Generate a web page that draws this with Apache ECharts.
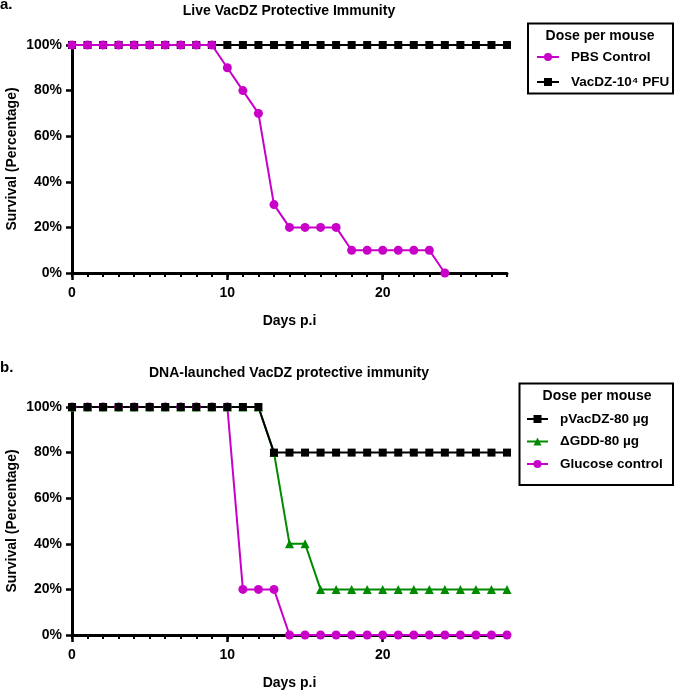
<!DOCTYPE html>
<html>
<head>
<meta charset="utf-8">
<script src="https://cdn.jsdelivr.net/npm/echarts@6/dist/echarts.min.js"></script>
<style>
html,body{margin:0;padding:0;background:#fff;}
#chart{width:674px;height:690px;}
</style>
</head>
<body>
<div id="chart"></div>
<script>
// ---- Data ----
const days = [0,1,2,3,4,5,6,7,8,9,10,11,12,13,14,15,16,17,18,19,20,21,22,23,24,25,26,27,28];
// Panel a
const pbsControl = [100,100,100,100,100,100,100,100,100,100,90,80,70,30,20,20,20,20,10,10,10,10,10,10,0];
const vacdz104 = [100,100,100,100,100,100,100,100,100,100,100,100,100,100,100,100,100,100,100,100,100,100,100,100,100,100,100,100,100];
// Panel b
const pVacDZ80 = [100,100,100,100,100,100,100,100,100,100,100,100,100,80,80,80,80,80,80,80,80,80,80,80,80,80,80,80,80];
const dGDD80 = [100,100,100,100,100,100,100,100,100,100,100,100,100,80,40,40,20,20,20,20,20,20,20,20,20,20,20,20,20];
const glucoseControl = [100,100,100,100,100,100,100,100,100,100,100,20,20,20,0,0,0,0,0,0,0,0,0,0,0,0,0,0,0];
const xLabels = [0,10,20];

const names = {
  pbs: 'PBS Control',
  vac: 'VacDZ-10\u2074 PFU',
  pvac: 'pVacDZ-80 \u00b5g',
  gdd: '\u0394GDD-80 \u00b5g',
  glu: 'Glucose control'
};

function pairs(vals){ return vals.map((v,i)=>[days[i], v]); }

const FONT = "'Liberation Sans', Arial, Helvetica, sans-serif";
const FS = 14;
const MAG = '#c800c8';
const GRN = '#008a00';
const BLK = '#000000';

function gridAxes(gi){
  const xa = [{
    gridIndex: gi, type:'value', min:0, max:28, interval:1, position:'bottom',
    axisLine:{show:true, lineStyle:{color:'#000', width:3}},
    axisTick:{show:true, length:4, lineStyle:{color:'#000', width:2}},
    axisLabel:{show:true, customValues: xLabels, margin:13, color:'#000', fontFamily:FONT, fontWeight:'bold', fontSize:FS},
    splitLine:{show:false},
    name:'Days p.i', nameLocation:'middle', nameGap:41, nameMoveOverlap:false,
    nameTextStyle:{color:'#000', fontFamily:FONT, fontWeight:'bold', fontSize:FS}
  },{
    gridIndex: gi, type:'value', min:0, max:28, interval:10, position:'bottom',
    axisLine:{show:false},
    axisTick:{show:true, customValues: xLabels, length:7, lineStyle:{color:'#000', width:2.5}},
    axisLabel:{show:false},
    splitLine:{show:false}
  }];
  const ya = {
    gridIndex: gi, type:'value', min:0, max:100, interval:20,
    axisLine:{show:true, lineStyle:{color:'#000', width:3}},
    axisTick:{show:true, length:6, lineStyle:{color:'#000', width:2.5}},
    axisLabel:{formatter:'{value}%', margin:10, color:'#000', fontFamily:FONT, fontWeight:'bold', fontSize:FS},
    splitLine:{show:false},
    name:'Survival (Percentage)', nameLocation:'middle', nameGap:53, nameRotate:90, nameMoveOverlap:false,
    nameTextStyle:{color:'#000', fontFamily:FONT, fontWeight:'bold', fontSize:FS}
  };
  return {xa, ya};
}

const a = gridAxes(0), b = gridAxes(1);

function lineSeries(name, vals, color, symbol, size, xi, yi){
  return {
    name, type:'line', data: pairs(vals), xAxisIndex:xi, yAxisIndex:yi,
    symbol, symbolSize:size, showAllSymbol:true, clip:false,
    itemStyle:{color}, lineStyle:{color, width:2}
  };
}

const legendText = {color:'#000', fontFamily:FONT, fontWeight:'bold', fontSize:13.5, lineHeight:14, padding:[0,0,0,7]};

const option = {
  animation:false,
  backgroundColor:'#fff',
  title:[
    {text:'a.', left:0, top:-3, padding:0, textStyle:{fontFamily:FONT, fontWeight:'bold', fontSize:15, color:'#000'}},
    {text:'Live VacDZ Protective Immunity', left:289, top:4, padding:0, textAlign:'center', textStyle:{fontFamily:FONT, fontWeight:'bold', fontSize:FS, color:'#000'}},
    {text:'b.', left:0, top:360, padding:0, textStyle:{fontFamily:FONT, fontWeight:'bold', fontSize:15, color:'#000'}},
    {text:'DNA-launched VacDZ protective immunity', left:289, top:366, padding:0, textAlign:'center', textStyle:{fontFamily:FONT, fontWeight:'bold', fontSize:FS, color:'#000'}}
  ],
  grid:[
    {left:72, top:45, width:435, height:228, containLabel:false, outerBoundsMode:'none'},
    {left:72, top:407, width:435, height:228, containLabel:false, outerBoundsMode:'none'}
  ],
  xAxis:[a.xa[0], a.xa[1], b.xa[0], b.xa[1]].map((ax,i)=>Object.assign({}, ax, {gridIndex: i<2?0:1})),
  yAxis:[a.ya, Object.assign({}, b.ya, {gridIndex:1})],
  legend:[
    {data:[names.pbs, names.vac], orient:'vertical', left:536, top:50, padding:0, itemWidth:22, itemHeight:10, itemGap:11, selectedMode:false, textStyle:legendText},
    {data:[names.pvac, names.gdd, names.glu], orient:'vertical', left:526, top:412, padding:0, itemWidth:21, itemHeight:10, itemGap:8.5, selectedMode:false, textStyle:legendText}
  ],
  graphic:[
    {type:'rect', shape:{x:528, y:23.5, width:145, height:70}, style:{fill:'none', stroke:'#000', lineWidth:2}},
    {type:'text', x:600, y:36, style:{text:'Dose per mouse', fill:'#000', font:"bold 14px 'Liberation Sans', Arial, sans-serif", textAlign:'center', textVerticalAlign:'middle'}},
    {type:'rect', shape:{x:519.5, y:383.5, width:153.5, height:101.5}, style:{fill:'none', stroke:'#000', lineWidth:2}},
    {type:'text', x:597, y:396, style:{text:'Dose per mouse', fill:'#000', font:"bold 14px 'Liberation Sans', Arial, sans-serif", textAlign:'center', textVerticalAlign:'middle'}}
  ],
  series:[
    lineSeries(names.vac, vacdz104, BLK, 'rect', 8, 0, 0),
    lineSeries(names.pbs, pbsControl, MAG, 'circle', 9, 0, 0),
    lineSeries(names.glu, glucoseControl, MAG, 'circle', 9, 2, 1),
    lineSeries(names.gdd, dGDD80, GRN, 'triangle', 9, 2, 1),
    lineSeries(names.pvac, pVacDZ80, BLK, 'rect', 8, 2, 1)
  ]
};

const chart = echarts.init(document.getElementById('chart'), null, {renderer:'canvas'});
chart.setOption(option);
</script>
</body>
</html>
